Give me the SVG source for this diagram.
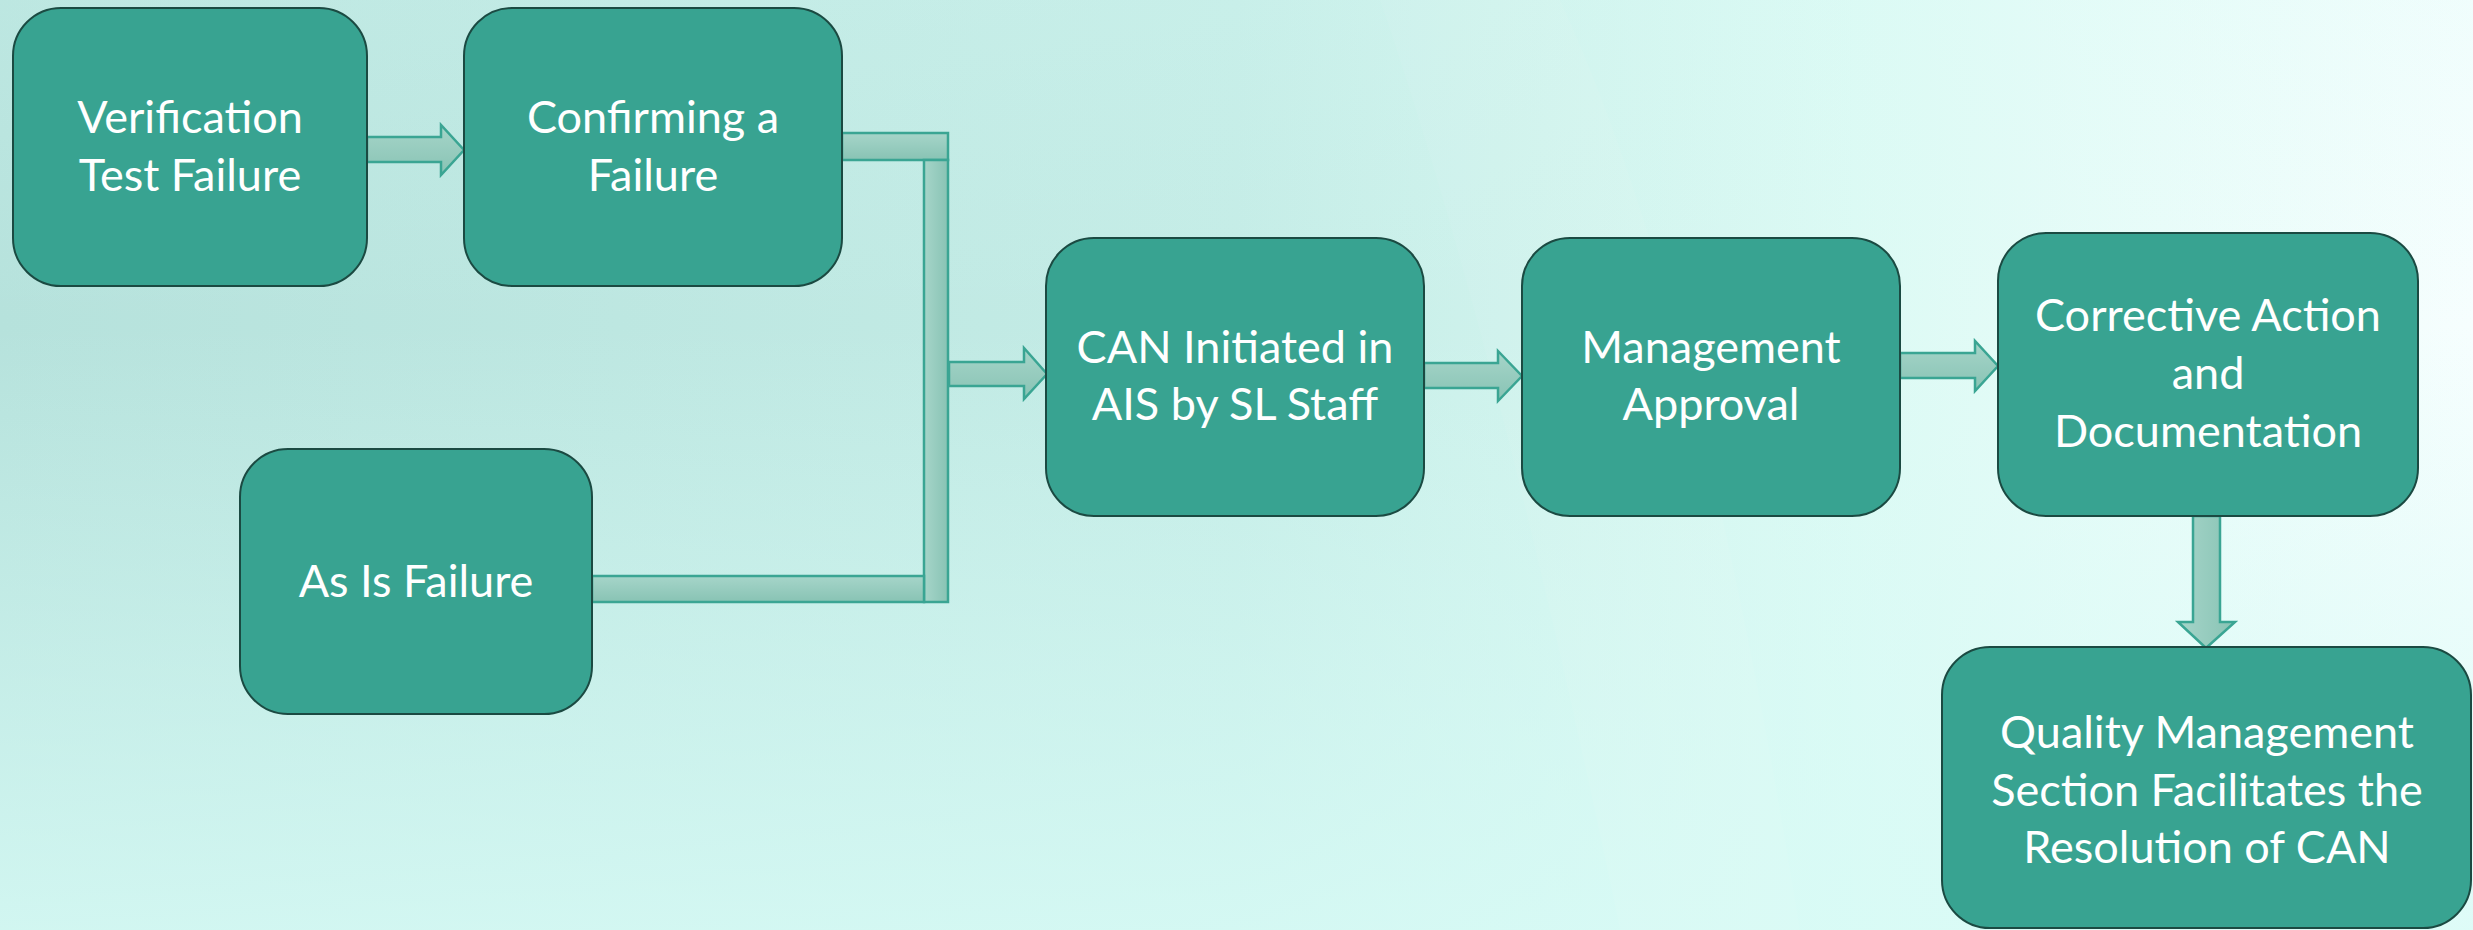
<svg xmlns="http://www.w3.org/2000/svg" width="2473" height="930" viewBox="0 0 2473 930">
  <defs>
    <linearGradient id="bgH" x1="0" y1="0" x2="1" y2="0">
      <stop offset="0" stop-color="#b6e2dc"/>
      <stop offset="0.5" stop-color="#c4ece6"/>
      <stop offset="0.75" stop-color="#dcfaf4"/>
      <stop offset="1" stop-color="#f6fefe"/>
    </linearGradient>
    <linearGradient id="bgV" x1="0" y1="0" x2="0" y2="1">
      <stop offset="0" stop-color="#d8fbf6" stop-opacity="0.2"/>
      <stop offset="0.35" stop-color="#d8fbf6" stop-opacity="0"/>
      <stop offset="1" stop-color="#d8fbf6" stop-opacity="0.8"/>
    </linearGradient>
    <linearGradient id="arrH" x1="0" y1="0" x2="0" y2="1">
      <stop offset="0" stop-color="#a6d5c9"/>
      <stop offset="1" stop-color="#88c3b4"/>
    </linearGradient>
    <linearGradient id="arrV" x1="0" y1="0" x2="1" y2="0">
      <stop offset="0" stop-color="#a6d5c9"/>
      <stop offset="1" stop-color="#88c3b4"/>
    </linearGradient>
    <style>
      .box { fill: #38a391; stroke: #1b4a42; stroke-width: 2; }
      .lbl { fill: #ffffff; font-family: Lato, "Liberation Sans", sans-serif; font-size: 45px; text-anchor: middle; }
      .arr { fill: url(#arrH); stroke: #3aa593; stroke-width: 2.5; stroke-linejoin: miter; }
      .arrv { fill: url(#arrV); stroke: #3aa593; stroke-width: 2.5; }
    </style>
  </defs>

  <rect x="0" y="0" width="2473" height="930" fill="url(#bgH)"/>
  <rect x="0" y="0" width="2473" height="930" fill="url(#bgV)"/>
  <path d="M 1380 0 L 1560 0 Q 1700 300 1800 930 L 1620 930 Q 1500 350 1380 0 Z" fill="#ffffff" opacity="0.05"/>

  <g id="connectors">
    <path class="arr" d="M 367 137 L 441 137 L 441 125 L 464 150 L 441 175 L 441 162 L 367 162 Z"/>
    <rect class="arr" x="842" y="133" width="106" height="27"/>
    <rect class="arrv" x="924" y="160" width="24" height="442"/>
    <rect class="arr" x="592" y="576" width="332" height="26"/>
    <path class="arr" d="M 949 362 L 1024 362 L 1024 348 L 1047 374 L 1024 399 L 1024 386 L 949 386 Z"/>
    <path class="arr" d="M 1424 363 L 1498 363 L 1498 351 L 1522 376 L 1498 401 L 1498 388 L 1424 388 Z"/>
    <path class="arr" d="M 1900 353 L 1975 353 L 1975 341 L 1998 366 L 1975 391 L 1975 378 L 1900 378 Z"/>
    <path class="arrv" d="M 2193 516 L 2220 516 L 2220 622 L 2235 622 L 2206 648 L 2178 622 L 2193 622 Z"/>
  </g>

  <g id="node-verification">
    <rect class="box" x="13" y="8" width="354" height="278" rx="48" ry="48"/>
    <text class="lbl" x="190" y="133">Verification</text>
    <text class="lbl" x="190" y="191">Test Failure</text>
  </g>
  <g id="node-confirming">
    <rect class="box" x="464" y="8" width="378" height="278" rx="48" ry="48"/>
    <text class="lbl" x="653" y="133">Confirming a</text>
    <text class="lbl" x="653" y="191">Failure</text>
  </g>
  <g id="node-asis">
    <rect class="box" x="240" y="449" width="352" height="265" rx="48" ry="48"/>
    <text class="lbl" x="416" y="597">As Is Failure</text>
  </g>
  <g id="node-can">
    <rect class="box" x="1046" y="238" width="378" height="278" rx="48" ry="48"/>
    <text class="lbl" x="1235" y="363">CAN Initiated in</text>
    <text class="lbl" x="1235" y="420">AIS by SL Staff</text>
  </g>
  <g id="node-management">
    <rect class="box" x="1522" y="238" width="378" height="278" rx="48" ry="48"/>
    <text class="lbl" x="1711" y="363">Management</text>
    <text class="lbl" x="1711" y="420">Approval</text>
  </g>
  <g id="node-corrective">
    <rect class="box" x="1998" y="233" width="420" height="283" rx="48" ry="48"/>
    <text class="lbl" x="2208" y="331">Corrective Action</text>
    <text class="lbl" x="2208" y="389">and</text>
    <text class="lbl" x="2208" y="447">Documentation</text>
  </g>
  <g id="node-quality">
    <rect class="box" x="1942" y="647" width="529" height="281" rx="48" ry="48"/>
    <text class="lbl" x="2207" y="748">Quality Management</text>
    <text class="lbl" x="2207" y="806">Section Facilitates the</text>
    <text class="lbl" x="2207" y="863">Resolution of CAN</text>
  </g>
</svg>
